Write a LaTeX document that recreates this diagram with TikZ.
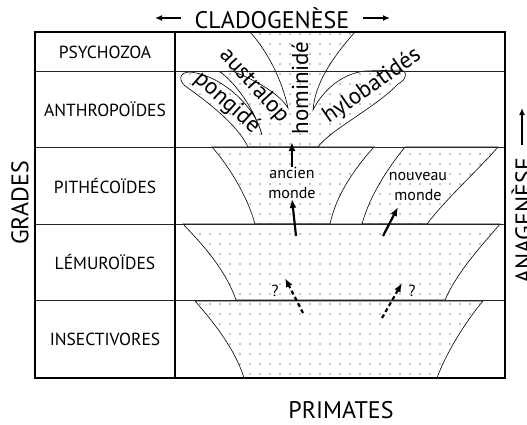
\documentclass[tikz,border=0pt]{standalone}
\usepackage{fontspec}
\setmainfont{PT Sans}
\usetikzlibrary{arrows.meta,patterns.meta}

\begin{document}
\begin{tikzpicture}[
    x=1pt, y=-1pt,
    lab/.style={font=\fontsize{17.5}{19}\selectfont, inner sep=0pt},
    axis/.style={font=\fontsize{24}{26}\selectfont, inner sep=0pt},
    taxon/.style={font=\fontsize{23}{25}\selectfont, inner sep=0pt},
    world/.style={font=\fontsize{16}{20}\selectfont, align=center, inner sep=0pt},
    zone/.style={draw, line width=0.6pt, pattern={Dots[distance=10pt,radius=0.6pt]}, pattern color=black},
    arr/.style={-{Latex[length=9pt,width=7pt]}, line width=2.2pt},
    qarr/.style={arr, dash pattern=on 4pt off 3pt},
    axarr/.style={-{Latex[length=7pt,width=6pt]}, line width=1.4pt},
    grid/.style={line width=1pt, black!85}
  ]
  \useasboundingbox (0,0) rectangle (527,424);
  % dotted zones, bottom to top
  \path[zone] (195,301) .. controls (210,318) and (235,348) .. (244,378)
    -- (437,378) .. controls (447,350) and (470,316) .. (483,301) -- cycle;
  \path[zone] (183,224) .. controls (200,242) and (225,268) .. (236,300)
    -- (445,300) .. controls (458,270) and (485,242) .. (500,224) -- cycle;
  \path[zone] (212,147) .. controls (228,165) and (247,195) .. (255,224)
    -- (330,224) .. controls (336,195) and (355,168) .. (374,147) -- cycle;
  \path[zone] (405,147) .. controls (388,168) and (370,195) .. (362,224)
    -- (427,224) .. controls (445,200) and (478,170) .. (498,147) -- cycle;
  % anthropoid crown
  \path[zone] (248,147) .. controls (238,125) and (205,100) .. (188,88)
    .. controls (178,82) and (178,72) .. (190,72)
    .. controls (220,75) and (255,105) .. (262,135)
    .. controls (255,110) and (235,82) .. (220,72)
    -- (232,71) .. controls (260,82) and (280,95) .. (288,108)
    .. controls (282,80) and (268,52) .. (250,32)
    -- (355,32) .. controls (330,60) and (315,85) .. (313,110)
    .. controls (322,92) and (340,74) .. (365,71)
    -- (400,70) .. controls (408,70) and (407,80) .. (398,84)
    .. controls (375,108) and (330,130) .. (318,147) -- cycle;
  % grid
  \draw[grid] (35,71) -- (505,71);
  \draw[grid] (35,147) -- (505,147);
  \draw[grid] (35,224) -- (505,224);
  \draw[grid] (35,300) -- (505,300);
  \draw[line width=1.6pt] (175,32) -- (175,378);
  \draw[line width=1.6pt] (35,32) rectangle (505,378);
  % grade names
  \node[lab] (psy) at (105,52) {PSYCHOZOA};
  \node[lab] (anth) at (105,109) {ANTHROPOÏDES};
  \node[lab] (pith) at (105,186) {PITHÉCOÏDES};
  \node[lab] (lemur) at (105,262) {LÉMUROÏDES};
  \node[lab] (insect) at (105,339) {INSECTIVORES};
  % axes
  \node[axis] (clado) at (272,18) {CLADOGENÈSE};
  \coordinate (cladoL) at (155,18);
  \coordinate (cladoR) at (390,18);
  \draw[axarr] ([xshift=-14pt]clado.west) -- (cladoL);
  \draw[axarr] ([xshift=14pt]clado.east) -- (cladoR);
  \node[axis, rotate=90] (anag) at (522,221) {ANAGENÈSE};
  \coordinate (anagT) at (522,108);
  \draw[axarr] ([yshift=13pt]anag.east) -- (anagT);
  \node[axis, rotate=90] (grades) at (20,203) {GRADES};
  \node[axis] (primates) at (341,410) {PRIMATES};
  % taxa
  \node[taxon, rotate=90] (homi) at (300,88) {hominidé};
  \node[taxon, rotate=-48] (austr) at (254,86) {australop};
  \node[taxon, rotate=-42] (pong) at (227,103) {pongidé};
  \node[taxon, rotate=35] (hylo) at (372,86) {hylobatidés};
  \node[world] (ancien) at (292,183) {ancien\\monde};
  \node[world] (nouveau) at (418,186) {nouveau\\monde};
  \node[world] (qa) at (275,291) {?};
  \node[world] (qb) at (412,291) {?};
  % arrows
  \coordinate (homibase) at (292,142);
  \coordinate (amfoot) at (296,236);
  \coordinate (nmfoot) at (383,236);
  \coordinate (nmtip) at (398,207);
  \coordinate (qafoot) at (303,313);
  \coordinate (qatip) at (285,278);
  \coordinate (qbfoot) at (382,318);
  \coordinate (qbtip) at (402,283);
  \draw[arr] (ancien.north) -- (homibase);
  \draw[arr] (amfoot) -- (ancien.south);
  \draw[arr] (nmfoot) -- (nmtip);
  \draw[qarr] (qafoot) -- (qatip);
  \draw[qarr] (qbfoot) -- (qbtip);
\end{tikzpicture}
\end{document}
